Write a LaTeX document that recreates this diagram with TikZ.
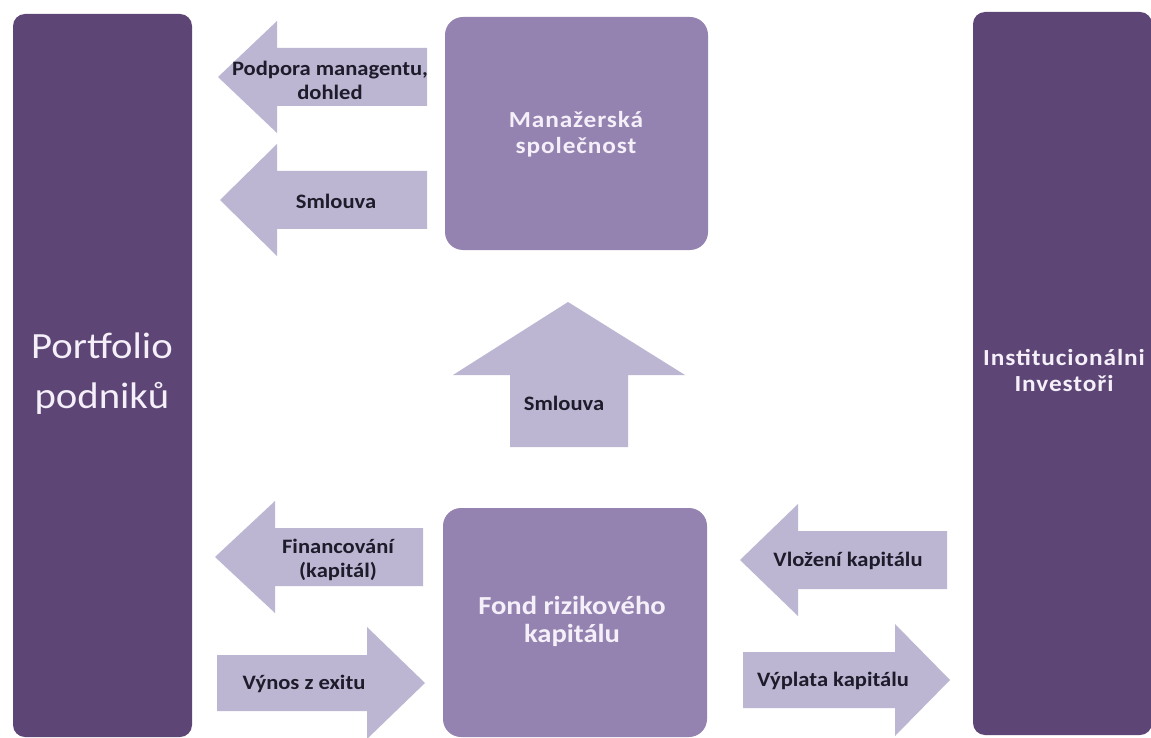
\documentclass[tikz,border=0pt]{standalone}
\usepackage{fontspec}
\setmainfont{Carlito}[FakeStretch=1.1]
\newfontfamily\spacedfont{Carlito}[FakeStretch=1.1,LetterSpace=4]
\usetikzlibrary{positioning}
\definecolor{PurpleDark}{HTML}{5D4675}
\definecolor{PurpleMid}{HTML}{9483B0}
\definecolor{PurpleLight}{HTML}{BCB6D3}
\definecolor{TextLight}{HTML}{F4EFF8}
\definecolor{TextDark}{HTML}{1E1B2A}

% block arrows: tip x, centre y, head base x, tail x
\newcommand{\leftblock}[4]{\fill[PurpleLight] (#1,#2) -- (#3,#2-56) -- (#3,#2-29) -- (#4,#2-29)
  -- (#4,#2+29) -- (#3,#2+29) -- (#3,#2+56) -- cycle;}
\newcommand{\rightblock}[4]{\fill[PurpleLight] (#1,#2) -- (#3,#2-56) -- (#3,#2-28) -- (#4,#2-28)
  -- (#4,#2+28) -- (#3,#2+28) -- (#3,#2+56) -- cycle;}

\begin{document}
\begin{tikzpicture}[x=1pt, y=-1pt,
                    column/.style={fill=PurpleDark, rounded corners=12pt},
                    box/.style={fill=PurpleMid, rounded corners=18pt},
                    boxtext/.style={text=TextLight, align=center, font=\spacedfont\bfseries\fontsize{23}{26}\selectfont},
                    arrowtext/.style={text=TextDark, align=center, font=\bfseries\fontsize{20.5}{24}\selectfont}]
\useasboundingbox (0,0) rectangle (1151,738);
\fill[white] (0,0) rectangle (1151,738);
% columns and boxes
\fill[column] (13,14) rectangle (192,737);
\fill[column] (973,12) rectangle (1152,735);
\fill[box] (445,17) rectangle (708,250);
\fill[box] (443,508) rectangle (707,737);
\node[text=TextLight, align=center, font=\fontsize{37}{50}\selectfont] (portfolio) at (102,374) {Portfolio\\ podniků};
\node[boxtext] (investori) at (1064,370) {Institucionálni\\ Investoři};
\node[boxtext] (manazer) at (576,134) {Manažerská\\ společnost};
\node[boxtext, font=\bfseries\fontsize{26}{28}\selectfont] (fond) at (572,621) {Fond rizikového\\ kapitálu};
% arrows
\leftblock{218}{77}{277}{427}
\leftblock{220}{200}{277}{427}
\leftblock{215}{557}{275}{423}
\rightblock{425}{683}{367}{217}
\leftblock{740}{560}{798}{947}
\rightblock{950}{680}{895}{743}
\fill[PurpleLight] (568,302) -- (685,375) -- (628,375) -- (628,447) -- (510,447) -- (510,375) -- (453,375) -- cycle;
% arrow labels
\node[arrowtext] (podpora) at (330,80) {Podpora managentu,\\ dohled};
\node[arrowtext] (smlouvaL) at (336,201) {Smlouva};
\node[arrowtext] (financ) at (338,560) {Financování\\ (kapitál)};
\node[arrowtext] (vynos) at (304,684) {Výnos z exitu};
\node[arrowtext] (vlozeni) at (848,561) {Vložení kapitálu};
\node[arrowtext] (vyplata) at (833,681) {Výplata kapitálu};
\node[arrowtext] (smlouvaU) at (564,403) {Smlouva};
\end{tikzpicture}
\end{document}
